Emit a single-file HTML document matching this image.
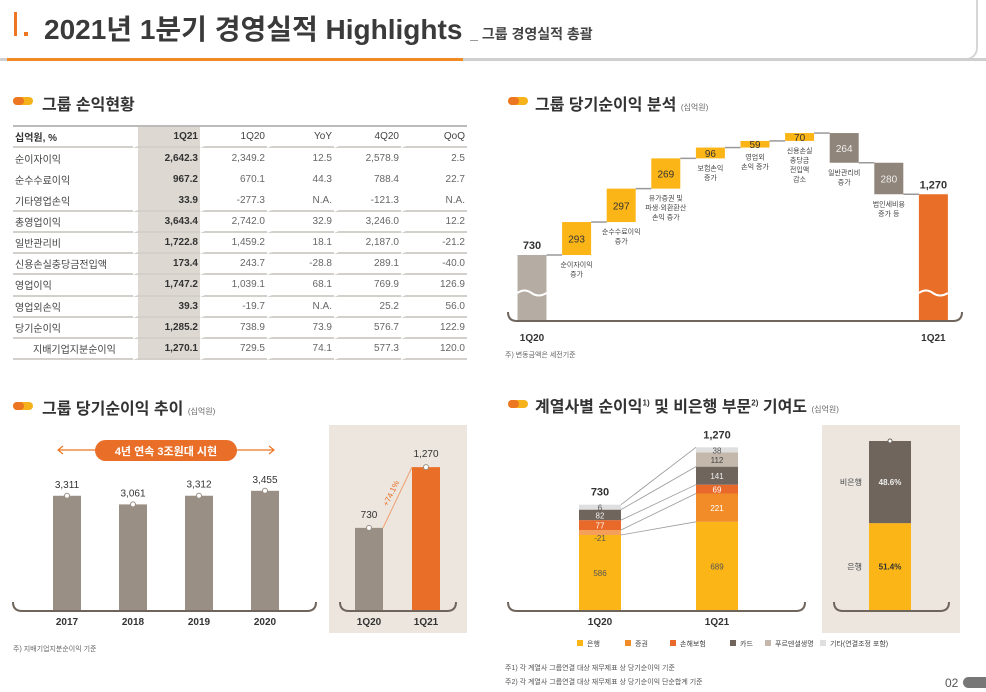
<!DOCTYPE html>
<html><head><meta charset="utf-8">
<style>
*{margin:0;padding:0;box-sizing:border-box}
body{width:986px;height:692px;background:#fff;position:relative;overflow:hidden;font-family:"Liberation Sans","Noto Sans CJK KR",sans-serif;color:#333}
.abs{position:absolute}
.h2{position:absolute;font-size:16px;font-weight:bold;color:#333;white-space:nowrap}
.h2 small{font-size:8px;font-weight:normal;color:#666}
.pill{position:absolute;width:20px;height:8px;border-radius:4px;background:#f5b21a}
.pill::before{content:"";position:absolute;left:0;top:0;width:11px;height:8px;border-radius:4px;background:#ed7623}
table{border-collapse:separate;border-spacing:0;font-size:10px}
td{height:21.2px;text-align:right;padding-right:2px;color:#666;white-space:nowrap}
td.l{text-align:left;color:#444;padding-left:2px}
td.b{font-weight:bold;color:#333;background:#ddd8d2;background-clip:padding-box;border-left:5px solid #fff}
tr.s td{border-bottom:2px solid #d3d0cc}
tr.s td+td{border-left:5px solid #fff}
svg text{font-family:"Liberation Sans","Noto Sans CJK KR",sans-serif}
</style></head><body>

<div class="abs" style="left:-5px;top:-4px;width:983px;height:64px;border:2px solid #d6d6d6;border-radius:0 0 12px 0;border-top:none"></div>
<div class="abs" style="left:0;top:58px;width:986px;height:3px;background:#cfcfcf"></div>
<div class="abs" style="left:7px;top:58px;width:456px;height:3px;background:#f08a24"></div>
<div class="abs" style="left:14px;top:12px;width:3px;height:24px;background:#ed7623"></div>
<div class="abs" style="left:24px;top:32px;width:4px;height:4px;background:#ed7623"></div>
<div class="abs" style="left:44px;top:8px;font-size:28px;font-weight:bold;color:#3a3a3a;white-space:nowrap">2021년 1분기 경영실적 Highlights <span style="font-size:14px;font-weight:bold;color:#444">_ 그룹 경영실적 총괄</span></div>

<div class="pill" style="left:13px;top:97px"></div>
<div class="h2" style="left:42px;top:91px">그룹 손익현황</div>
<table class="abs" style="left:13px;top:125px;width:454px;border-top:2px solid #bbb">
<colgroup><col style="width:120px"><col style="width:67px"><col style="width:67px"><col style="width:67px"><col style="width:67px"><col style="width:66px"></colgroup>
<tr class="s"><td class="l" style="font-weight:bold;color:#333">십억원, %</td><td class="b">1Q21</td><td style="color:#444">1Q20</td><td style="color:#444">YoY</td><td style="color:#444">4Q20</td><td style="color:#444">QoQ</td></tr>
<tr><td class="l">순이자이익</td><td class="b">2,642.3</td><td>2,349.2</td><td>12.5</td><td>2,578.9</td><td>2.5</td></tr>
<tr><td class="l">순수수료이익</td><td class="b">967.2</td><td>670.1</td><td>44.3</td><td>788.4</td><td>22.7</td></tr>
<tr class="s"><td class="l">기타영업손익</td><td class="b">33.9</td><td>-277.3</td><td>N.A.</td><td>-121.3</td><td>N.A.</td></tr>
<tr class="s"><td class="l">총영업이익</td><td class="b">3,643.4</td><td>2,742.0</td><td>32.9</td><td>3,246.0</td><td>12.2</td></tr>
<tr class="s"><td class="l">일반관리비</td><td class="b">1,722.8</td><td>1,459.2</td><td>18.1</td><td>2,187.0</td><td>-21.2</td></tr>
<tr class="s"><td class="l">신용손실충당금전입액</td><td class="b">173.4</td><td>243.7</td><td>-28.8</td><td>289.1</td><td>-40.0</td></tr>
<tr class="s"><td class="l">영업이익</td><td class="b">1,747.2</td><td>1,039.1</td><td>68.1</td><td>769.9</td><td>126.9</td></tr>
<tr class="s"><td class="l">영업외손익</td><td class="b">39.3</td><td>-19.7</td><td>N.A.</td><td>25.2</td><td>56.0</td></tr>
<tr class="s"><td class="l">당기순이익</td><td class="b">1,285.2</td><td>738.9</td><td>73.9</td><td>576.7</td><td>122.9</td></tr>
<tr class="s"><td class="l" style="padding-left:20px">지배기업지분순이익</td><td class="b">1,270.1</td><td>729.5</td><td>74.1</td><td>577.3</td><td>120.0</td></tr>
</table>

<div class="pill" style="left:508px;top:97px"></div>
<div class="h2" style="left:535px;top:91px">그룹 당기순이익 분석 <small>(십억원)</small></div>
<svg class="abs" style="left:0;top:0" width="986" height="692" id="wf"></svg>
<div class="abs" style="left:505px;top:350px;font-size:7px;color:#666">주) 변동금액은 세전기준</div>

<div class="pill" style="left:13px;top:402px"></div>
<div class="h2" style="left:42px;top:395px">그룹 당기순이익 추이 <small>(십억원)</small></div>
<div class="abs" style="left:329px;top:425px;width:138px;height:208px;background:#ece6df"></div>
<div class="abs" style="left:13px;top:644px;font-size:7px;color:#666">주) 지배기업지분순이익 기준</div>

<div class="pill" style="left:508px;top:400px"></div>
<div class="h2" style="left:535px;top:393px">계열사별 순이익<sup style="font-size:8px">1)</sup> 및 비은행 부문<sup style="font-size:8px">2)</sup> 기여도 <small>(십억원)</small></div>
<div class="abs" style="left:822px;top:425px;width:138px;height:208px;background:#ece6df"></div>
<div class="abs" style="left:505px;top:663px;font-size:7px;color:#555">주1) 각 계열사 그룹연결 대상 재무제표 상 당기순이익 기준</div>
<div class="abs" style="left:505px;top:677px;font-size:7px;color:#555">주2) 각 계열사 그룹연결 대상 재무제표 상 당기순이익 단순합계 기준</div>
<div class="abs" style="left:945px;top:676px;font-size:12px;color:#555">02</div>
<div class="abs" style="left:963px;top:677px;width:30px;height:11px;border-radius:6px;background:#777"></div>

<svg class="abs" style="left:0;top:0" width="986" height="692" id="ov"></svg>

<script>
const wfSteps = [293, 297, 269, 96, 59, 70, -264, -280];
const wfStart = 730;
const wfEnd = 1270;
const wfLabels = [["순이자이익","증가"],["순수수료이익","증가"],["유가증권 및","파생·외환환산","손익 증가"],["보험손익","증가"],["영업외","손익 증가"],["신용손실","충당금","전입액","감소"],["일반관리비","증가"],["법인세비용","증가 등"]];
const yearCats = ["2017","2018","2019","2020"];
const yearVals = [3311, 3061, 3312, 3455];
const qCats = ["1Q20","1Q21"];
const qVals = [730, 1270];
const qGrowth = "+74.1%";
const segNames = ["은행","증권","손해보험","카드","푸르덴셜생명","기타(연결조정 포함)"];
const seg1Q20 = [586, -21, 77, 82, 0, 6];
const seg1Q21 = [689, 221, 69, 141, 112, 38];
const stackCats = ["1Q20","1Q21"];
const stackTotals = [730, 1270];
const shareVals = [51.4, 48.6];
const shareNames = ["은행","비은행"];

const NS="http://www.w3.org/2000/svg";
function mk(svg,tag,attrs,txt){const e=document.createElementNS(NS,tag);for(const k in attrs)e.setAttribute(k,attrs[k]);if(txt!==undefined)e.textContent=txt;svg.appendChild(e);return e;}
function bracket(svg,x0,x1,y){const e=mk(svg,'path',{d:`M${x0} ${y-9} Q${x0} ${y} ${x0+9} ${y} L${x1-9} ${y} Q${x1} ${y} ${x1} ${y-9}`,fill:'none',stroke:'#6f655c','stroke-width':2});}

const wf=document.getElementById('wf');
const wy=v=>255-(v-730)*0.1125;
const wx=i=>532+i*44.6;
const bw=29;
bracket(wf,508,962,321);
let b=mk(wf,'rect',{x:wx(0)-bw/2,y:wy(wfStart),width:bw,height:320-wy(wfStart),fill:'#b5aca3'});

mk(wf,'text',{x:wx(0),y:wy(wfStart)-6,'text-anchor':'middle','font-size':11,'font-weight':'bold',fill:'#333'},wfStart.toLocaleString());
mk(wf,'text',{x:wx(0),y:341,'text-anchor':'middle','font-size':10,'font-weight':'bold',fill:'#333'},'1Q20');
let cur=wfStart;
wfSteps.forEach((d,i)=>{
  const x=wx(i+1),nxt=cur+d;
  const top=wy(Math.max(cur,nxt)),bot=wy(Math.min(cur,nxt));
  const r=mk(wf,'rect',{x:x-bw/2,y:top,width:bw,height:bot-top,fill:d>0?'#fbb517':'#8f857b'});
  
  const c=mk(wf,'line',{x1:x-44.6+bw/2,x2:x-bw/2,y1:wy(cur),y2:wy(cur),stroke:'#999','stroke-width':1.5});
  
  mk(wf,'text',{x:x,y:(top+bot)/2+4,'text-anchor':'middle','font-size':10,fill:d>0?'#333':'#eee'},Math.abs(d));
  wfLabels[i].forEach((t,j)=>mk(wf,'text',{x:x,y:bot+12+j*9.5,'text-anchor':'middle','font-size':7,fill:'#444'},t));
  cur=nxt;
});
const xe=wx(9);
let c2=mk(wf,'line',{x1:wx(8)+bw/2,x2:xe-bw/2,y1:wy(cur),y2:wy(cur),stroke:'#999','stroke-width':1.5});

b=mk(wf,'rect',{x:xe-bw/2,y:wy(wfEnd),width:bw,height:320-wy(wfEnd),fill:'#e96f28'});

mk(wf,'text',{x:xe,y:wy(wfEnd)-6,'text-anchor':'middle','font-size':11,'font-weight':'bold',fill:'#333'},wfEnd.toLocaleString());
mk(wf,'text',{x:xe,y:341,'text-anchor':'middle','font-size':10,'font-weight':'bold',fill:'#333'},'1Q21');
[wx(0),xe].forEach(x=>mk(wf,'path',{d:`M${x-bw/2} 293 q7 -5 14 0 t15 0`,fill:'none',stroke:'#fff','stroke-width':2}));

const ov=document.getElementById('ov');
const ay=v=>610-v*0.0345;
const ax=i=>67+i*66;
bracket(ov,13,316,611);
yearVals.forEach((v,i)=>{
  const r=mk(ov,'rect',{x:ax(i)-14,y:ay(v),width:28,height:610-ay(v),fill:'#9a8f84'});
  
  mk(ov,'circle',{cx:ax(i),cy:ay(v),r:2.5,fill:'#fff',stroke:'#9a8f84','stroke-width':1});
  mk(ov,'text',{x:ax(i),y:ay(v)-8,'text-anchor':'middle','font-size':10,fill:'#333'},v.toLocaleString());
  mk(ov,'text',{x:ax(i),y:625,'text-anchor':'middle','font-size':10,'font-weight':'bold',fill:'#333'},yearCats[i]);
});
mk(ov,'line',{x1:58,x2:274,y1:450,y2:450,stroke:'#ed7623','stroke-width':1.2});
mk(ov,'path',{d:'M63 446 L58 450 L63 454 M269 446 L274 450 L269 454',fill:'none',stroke:'#ed7623','stroke-width':1.2});
let pb=mk(ov,'rect',{x:95,y:440,width:142,height:21,rx:10.5,fill:'#e96f28'});

mk(ov,'text',{x:166,y:455,'text-anchor':'middle','font-size':11,'font-weight':'bold',fill:'#fff'},'4년 연속 3조원대 시현');
const qy=v=>610-v*0.1125;
const qx=i=>369+i*57;
bracket(ov,340,456,611);
qVals.forEach((v,i)=>{
  const r=mk(ov,'rect',{x:qx(i)-14,y:qy(v),width:28,height:610-qy(v),fill:i?'#e96f28':'#9a8f84'});
  
  mk(ov,'circle',{cx:qx(i),cy:qy(v),r:2.5,fill:'#fff',stroke:'#9a8f84','stroke-width':1});
  mk(ov,'text',{x:qx(i),y:qy(v)-10,'text-anchor':'middle','font-size':10,fill:'#333'},v.toLocaleString());
  mk(ov,'text',{x:qx(i),y:625,'text-anchor':'middle','font-size':10,'font-weight':'bold',fill:'#333'},qCats[i]);
});
mk(ov,'line',{x1:qx(0)+14,y1:qy(qVals[0]),x2:qx(1)-14,y2:qy(qVals[1]),stroke:'#f0a070','stroke-width':1});
const mxq=(qx(0)+qx(1))/2-4,myq=(qy(qVals[0])+qy(qVals[1]))/2-3;
mk(ov,'text',{x:mxq,y:myq,'text-anchor':'middle','font-size':8,fill:'#e96f28',transform:`rotate(-64 ${mxq} ${myq})`},qGrowth);

const segCol=['#fbb517','#f28c28','#e8692a','#6f655c','#c3b8ab','#e0dfdf'];
const segTxt=['#555','#fff','#fff','#eee','#444','#555'];
const ss=0.128, sx=[600,717], sw=42, base=610;
bracket(ov,508,805,611);
const tops=[];
[seg1Q20,seg1Q21].forEach((arr,k)=>{
  let y=base; const t=[];
  arr.forEach((v,j)=>{
    let h=Math.max(Math.abs(v)*ss, v===0?0:(j===0?0:5));
    if(v===0){t.push(y);return;}
    const r=mk(ov,'rect',{x:sx[k]-sw/2,y:y-h,width:sw,height:h,fill:v<0?'#f5a05a':segCol[j]});
    
    const ty=v<0?y+6:y-h/2+3.5;
    mk(ov,'text',{x:sx[k],y:ty,'text-anchor':'middle','font-size':8,fill:v<0?'#555':segTxt[j]},v);
    y-=h; t.push(y);
  });
  tops.push(t);
  mk(ov,'text',{x:sx[k],y:y-9,'text-anchor':'middle','font-size':11,'font-weight':'bold',fill:'#333'},stackTotals[k].toLocaleString());
  mk(ov,'text',{x:sx[k],y:625,'text-anchor':'middle','font-size':10,'font-weight':'bold',fill:'#333'},stackCats[k]);
});
[0,1,2,3,5].forEach(j=>{
  const l=mk(ov,'line',{x1:sx[0]+sw/2,y1:tops[0][j],x2:sx[1]-sw/2,y2:tops[1][j],stroke:'#999','stroke-width':0.8});
  
});
const shTop=441, shH=169;
bracket(ov,834,949,611);
let sy=base;
shareVals.forEach((v,i)=>{
  const h=v/100*shH;
  const r=mk(ov,'rect',{x:869,y:sy-h,width:42,height:h,fill:i?'#6f655c':'#fbb517'});
  
  mk(ov,'text',{x:890,y:sy-h/2+3,'text-anchor':'middle','font-size':8,'font-weight':'bold',fill:i?'#eee':'#333'},v.toFixed(1)+'%');
  mk(ov,'text',{x:862,y:sy-h/2+3,'text-anchor':'end','font-size':8,fill:'#444'},shareNames[i]);
  sy-=h;
});
mk(ov,'circle',{cx:890,cy:shTop,r:2,fill:'#fff',stroke:'#6f655c'});
const legX=[577,625,670,730,765,820];
segNames.forEach((n,i)=>{
  const g=mk(ov,'g',{});
  
  mk(g,'rect',{x:legX[i],y:640,width:6,height:6,fill:segCol[i]});
  mk(g,'text',{x:legX[i]+10,y:646,'font-size':7,fill:'#444'},n);
});
</script>
</body></html>
